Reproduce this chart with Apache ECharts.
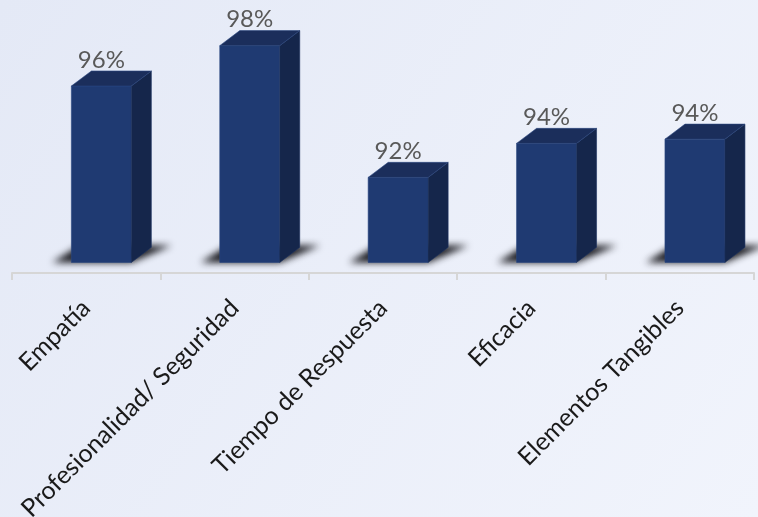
<!DOCTYPE html>
<html>
<head>
<meta charset="utf-8">
<script src="https://cdn.jsdelivr.net/npm/echarts@6/dist/echarts.min.js"></script>
<style>
html,body{margin:0;padding:0;}
#chart{width:758px;height:517px;}
</style>
</head>
<body>
<div id="chart"></div>
<script>
var categories = ['Empatía', 'Profesionalidad/ Seguridad', 'Tiempo de Respuesta', 'Eficacia', 'Elementos Tangibles'];
var values = [96.3, 98.2, 92.0, 93.6, 93.8];
var valueLabels = ['96%', '98%', '92%', '94%', '94%'];
var FLOOR = 88;

var chart = echarts.init(document.getElementById('chart'));

function renderItem(params, api) {
  var idx = api.value(0);
  var top = api.coord([idx, api.value(1)]);
  var base = api.coord([idx, FLOOR]);
  var bw = api.size([1, 0])[0];
  var w = bw * 0.404;
  var fl = top[0] - bw * 0.1;
  var fr = fl + w;
  var dx = bw * 0.135, dy = dx * 0.75;
  var ty = top[1], by = base[1];
  var OFF = 1500;
  return {
    type: 'group',
    children: [
      {
        type: 'polygon',
        shape: { points: [[fl - 19 - OFF, by], [fr - OFF, by], [fr + dx + 20 - OFF, by - 17], [fl + 8 - OFF, by - 17]] },
        style: { fill: '#000', shadowBlur: 7, shadowColor: 'rgba(15,15,20,0.95)', shadowOffsetX: OFF, shadowOffsetY: 0 }
      },
      {
        type: 'rect',
        shape: { x: fl, y: ty, width: w, height: by - ty },
        style: { fill: '#1f3a72', stroke: '#2a4680', lineWidth: 0.6 }
      },
      {
        type: 'polygon',
        shape: { points: [[fr, ty], [fr + dx, ty - dy], [fr + dx, by - dy], [fr, by]] },
        style: { fill: '#15264b', stroke: '#1d3360', lineWidth: 0.6 }
      },
      {
        type: 'polygon',
        shape: { points: [[fl, ty], [fl + dx, ty - dy], [fr + dx, ty - dy], [fr, ty]] },
        style: { fill: '#1b2e5b', stroke: '#2a4680', lineWidth: 0.6 }
      },
      {
        type: 'text',
        style: {
          x: fl + w / 2, y: ty - 26,
          text: valueLabels[idx],
          fill: '#595959',
          font: '24px Lato',
          textAlign: 'center',
          textVerticalAlign: 'middle'
        }
      }
    ]
  };
}

var option = {
  animation: false,
  backgroundColor: {
    type: 'linear', x: 0, y: 0, x2: 1, y2: 1,
    colorStops: [{ offset: 0, color: '#e4e9f6' }, { offset: 1, color: '#f1f4fc' }]
  },
  grid: { left: 12, right: 4, top: 7.4, bottom: 244, containLabel: false, outerBoundsMode: 'none' },
  xAxis: {
    type: 'category',
    data: categories,
    boundaryGap: true,
    axisLine: { lineStyle: { color: '#d6d6d6', width: 2 } },
    axisTick: { show: true, length: 7, lineStyle: { color: '#d6d6d6', width: 2 } },
    axisLabel: {
      interval: 0,
      rotate: 45,
      margin: 31,
      verticalAlign: 'middle',
      fontFamily: 'Lato',
      fontSize: 25,
      color: '#1a1a1a'
    }
  },
  yAxis: { type: 'value', min: 87.5, max: 100, show: false },
  series: [{
    type: 'custom',
    renderItem: renderItem,
    data: values.map(function (v, i) { return [i, v]; })
  }]
};
chart.setOption(option);
</script>
</body>
</html>
